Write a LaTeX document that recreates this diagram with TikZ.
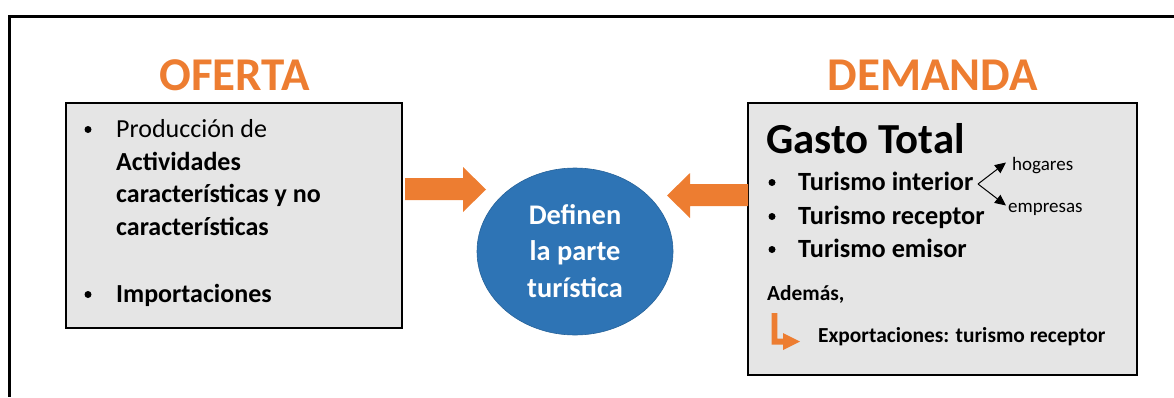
\documentclass[tikz,border=0pt]{standalone}
\usepackage{fontspec}
\setmainfont{Carlito}
\usetikzlibrary{arrows.meta,shapes.geometric}
\definecolor{orng}{HTML}{ED7D31}
\definecolor{boxgray}{HTML}{E5E5E5}
\definecolor{blu}{HTML}{2E74B5}
\begin{document}
\begin{tikzpicture}[x=1pt,y=-1pt,
  panel/.style={draw=black,line width=2pt,fill=boxgray},
  title/.style={font=\fontsize{47}{50}\selectfont\bfseries,text=orng,inner sep=0pt},
  txt/.style={anchor=base west,inner sep=0pt,font=\fontsize{26}{30}\selectfont},
  btxt/.style={txt,font=\fontsize{26}{30}\selectfont\bfseries},
  bul/.style={circle,fill=black,inner sep=0pt,minimum size=7pt},
  small/.style={anchor=base west,inner sep=0pt,font=\fontsize{19}{22}\selectfont},
  ctext/.style={anchor=base,inner sep=0pt,text=white,font=\fontsize{28.4}{32}\selectfont\bfseries},
  note/.style={anchor=base west,inner sep=0pt,font=\fontsize{21.4}{24}\selectfont\bfseries},
  blockarrow/.style={fill=orng,draw=none},
  branch/.style={-{Triangle[length=11pt,width=10pt]},line width=1pt,shorten >=0pt}]
\useasboundingbox (0,0) rectangle (1174,397);
% outer frame (cropped)
\draw[line width=3pt] (1174,16.5) -- (9.5,16.5) -- (9.5,397);
% titles
\node[title] (oferta) at (234.5,75) {OFERTA};
\node[title] (demanda) at (932.5,75) {DEMANDA};
% panels
\draw[panel] (66,103) rectangle (402,328);
\draw[panel] (748,103) rectangle (1137,375);
% left text
\node[bul] (b1) at (88,129.5) {};
\node[txt] (t1) at (116,137) {Producción de};
\node[btxt] (t2) at (116,170) {Actividades};
\node[btxt] (t3) at (116,202.5) {características y no};
\node[btxt] (t4) at (116,235) {características};
\node[bul] (b2) at (88,294.5) {};
\node[btxt] (t5) at (116,302) {Importaciones};
% ellipse
\node[ellipse,fill=blu,draw=blu!85!black,line width=0.6pt,minimum width=196pt,minimum height=167pt,inner sep=0pt] (ell) at (575,251.5) {};
\node[ctext] (e1) at (575,224) {Definen};
\node[ctext] (e2) at (575,260) {la parte};
\node[ctext] (e3) at (575,297) {turística};
% block arrows
\fill[blockarrow] (405,178) -- (463,178) -- (463,167) -- (486,189.5) -- (463,212) -- (463,200) -- (405,200) -- cycle;
\fill[blockarrow] (748,184) -- (690,184) -- (690,173) -- (667,195.5) -- (690,218) -- (690,206) -- (748,206) -- cycle;
% right text
\node[anchor=base west,inner sep=0pt,font=\fontsize{42.8}{46}\selectfont\bfseries] (gasto) at (766,153) {Gasto Total};
\node[bul] (b3) at (772,182.5) {};
\node[btxt,font=\fontsize{26.3}{30}\selectfont\bfseries] (r1) at (798,190) {Turismo interior};
\node[bul] (b4) at (772,216.5) {};
\node[btxt,font=\fontsize{26.3}{30}\selectfont\bfseries] (r2) at (798,224) {Turismo receptor};
\node[bul] (b5) at (772,249.5) {};
\node[btxt,font=\fontsize{26.3}{30}\selectfont\bfseries] (r3) at (798,257) {Turismo emisor};
\node[small] (hog) at (1012,170) {hogares};
\node[small] (emp) at (1008,212) {empresas};
\coordinate (fork) at (978,184);
\coordinate (tiph) at (1006,162.5);
\coordinate (tipe) at (1006,205.5);
\draw[branch] (fork) -- (tiph);
\draw[branch] (fork) -- (tipe);
\node[note] (ademas) at (767,300) {Además,};
\node[note] (export) at (818,342) {Exportaciones: turismo receptor};
% bent arrow
\fill[blockarrow] (771.7,313) -- (777.3,313) -- (777.3,338.5) -- (783,338.5) -- (783,333) -- (800,341.5) -- (783,350) -- (783,344.5) -- (771.7,344.5) -- cycle;
\end{tikzpicture}
\end{document}
